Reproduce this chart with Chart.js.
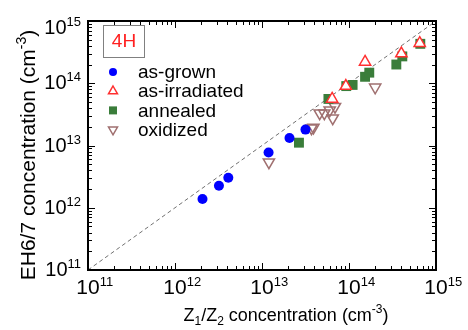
<!DOCTYPE html>
<html lang="en">
<head>
<meta charset="UTF-8">
<title>EH6/7 vs Z1/Z2</title>
<script src="https://cdn.jsdelivr.net/npm/chart.js"></script>
<style>
    body { margin: 0; background: #fff; }
    canvas { display: block; }
</style>
</head>
<body>
<canvas id="myChart" width="468" height="330"></canvas>
<script>
    // data (cm^-3)
    const grownX = [2.07e12, 3.2e12, 4.1e12, 1.19e13, 2.07e13, 3.16e13];
    const grownY = [1.38e12, 2.26e12, 3.04e12, 7.7e12, 1.32e13, 1.8e13];
    const irrX = [6.4e13, 9.2e13, 1.53e14, 4.0e14, 6.5e14];
    const irrY = [5.6e13, 9.0e13, 2.2e14, 3.0e14, 4.4e14];
    const annX = [2.66e13, 5.8e13, 9.3e13, 1.1e14, 1.53e14, 1.71e14, 3.5e14, 4.1e14, 6.6e14];
    const annY = [1.11e13, 5.6e13, 9.0e13, 9.4e13, 1.27e14, 1.48e14, 2.0e14, 2.7e14, 4.3e14];
    const oxiX = [1.2e13, 3.7e13, 3.9e13, 4.6e13, 5.2e13, 6.0e13, 6.5e13, 6.9e13, 2.0e14];
    const oxiY = [5.4e12, 1.9e13, 1.95e13, 3.3e13, 3.3e13, 3.7e13, 2.75e13, 4.2e13, 8.6e13];
    const guideX = [1e11, 1e15];
    const guideY = [1e11, 1e15];
    const decades = [11, 12, 13, 14, 15];

    const FONT = '"Liberation Sans", Arial, sans-serif';

    function pts(xs, ys) {
        return xs.map((x, i) => ({x: x, y: ys[i]}));
    }

    // ticks, frame, labels, titles and legend
    const decor = {
        id: 'decor',
        afterDraw(chart) {
            const c = chart.ctx;
            const a = chart.chartArea;
            const xs = chart.scales.x, ys = chart.scales.y;
            c.save();
            c.strokeStyle = '#000';
            c.lineWidth = 1;
            c.beginPath();
            for (let d = 11; d < 15; d++) {
                for (let m = 1; m <= 9; m++) {
                    const v = m * Math.pow(10, d);
                    const len = m === 1 ? 7 : 4;
                    const px = Math.round(xs.getPixelForValue(v)) + 0.5;
                    c.moveTo(px, a.bottom); c.lineTo(px, a.bottom - len);
                    c.moveTo(px, a.top); c.lineTo(px, a.top + len);
                    const py = Math.round(ys.getPixelForValue(v)) + 0.5;
                    c.moveTo(a.left, py); c.lineTo(a.left + len, py);
                    c.moveTo(a.right, py); c.lineTo(a.right - len, py);
                }
            }
            c.stroke();
            c.lineWidth = 2;
            c.strokeRect(a.left, a.top, a.right - a.left, a.bottom - a.top);

            // tick labels 10^n
            c.fillStyle = '#000';
            c.textBaseline = 'alphabetic';
            decades.forEach(d => {
                const v = Math.pow(10, d);
                c.font = '21px ' + FONT;
                const bw = c.measureText('10').width;
                const px = xs.getPixelForValue(v);
                c.textAlign = 'left';
                c.fillText('10', px - bw / 2, 294);
                c.font = '13px ' + FONT;
                c.fillText(String(d), px + bw / 2, 286);

                const py = ys.getPixelForValue(v);
                c.font = '13px ' + FONT;
                const sw = c.measureText(String(d)).width;
                const right = 81;
                const base = Math.max(py + 6, 34);
                c.fillText(String(d), right - sw, base - 8);
                c.font = '20px ' + FONT;
                const bw2 = c.measureText('10').width;
                c.fillText('10', right - sw - bw2, base);
            });

            // x title with sub/superscripts
            const xParts = [
                ['Z', 18, 0], ['1', 12, 4], ['/Z', 18, 0], ['2', 12, 4],
                [' concentration (cm', 18, 0], ['-3', 12, -8], [')', 18, 0]
            ];
            drawParts(c, xParts, 286, 321);
            const yParts = [
                ['EH6/7 concentration (cm', 21, 0], ['-3', 14, -9], [')', 21, 0]
            ];
            c.save();
            c.translate(35, 155);
            c.rotate(-Math.PI / 2);
            drawParts(c, yParts, 0, 0);
            c.restore();

            // 4H box
            c.lineWidth = 1;
            c.strokeStyle = '#808080';
            c.strokeRect(103.5, 25.5, 41, 32);
            c.fillStyle = '#ff2020';
            c.font = '19px ' + FONT;
            c.textAlign = 'center';
            c.textBaseline = 'middle';
            c.fillText('4H', 124, 42);

            // legend
            const names = ['as-grown', 'as-irradiated', 'annealed', 'oxidized'];
            names.forEach((n, i) => {
                const y = 72 + i * 19.2;
                drawMarker(c, i, 113, y, 0.8);
                c.fillStyle = '#000';
                c.font = '19px ' + FONT;
                c.textAlign = 'left';
                c.textBaseline = 'middle';
                c.fillText(n, 138, y + 1);
            });
            c.restore();
        }
    };

    function drawParts(c, parts, cx, base) {
        c.textAlign = 'left';
        c.textBaseline = 'alphabetic';
        c.fillStyle = '#000';
        let total = 0;
        parts.forEach(p => { c.font = p[1] + 'px ' + FONT; total += c.measureText(p[0]).width; });
        let x = cx - total / 2;
        parts.forEach(p => {
            c.font = p[1] + 'px ' + FONT;
            c.fillText(p[0], x, base + p[2]);
            x += c.measureText(p[0]).width;
        });
    }

    function drawMarker(c, kind, x, y, s) {
        c.beginPath();
        if (kind === 0) {
            c.fillStyle = '#0000ff';
            c.arc(x, y, 5 * s, 0, Math.PI * 2);
            c.fill();
        } else if (kind === 1) {
            const r = 6.5 * s;
            c.moveTo(x, y - r);
            c.lineTo(x + r * 0.866, y + r / 2);
            c.lineTo(x - r * 0.866, y + r / 2);
            c.closePath();
            c.fillStyle = '#fff';
            c.fill();
            c.strokeStyle = '#ff3030';
            c.lineWidth = 1.5;
            c.stroke();
        } else if (kind === 2) {
            c.fillStyle = '#3a7d3a';
            c.fillRect(x - 5 * s, y - 5 * s, 10 * s, 10 * s);
        } else {
            const r = 6.5 * s;
            c.moveTo(x, y + r);
            c.lineTo(x + r * 0.866, y - r / 2);
            c.lineTo(x - r * 0.866, y - r / 2);
            c.closePath();
            c.strokeStyle = '#a07070';
            c.lineWidth = 1.5;
            c.stroke();
        }
    }

    const ctx = document.getElementById('myChart').getContext('2d');
    new Chart(ctx, {
        type: 'scatter',
        data: {
            datasets: [
                {
                    label: 'as-grown',
                    data: pts(grownX, grownY),
                    pointStyle: 'circle',
                    pointRadius: 5,
                    backgroundColor: '#0000ff',
                    borderColor: '#0000ff',
                    borderWidth: 0
                },
                {
                    label: 'as-irradiated',
                    data: pts(irrX, irrY),
                    pointStyle: 'triangle',
                    pointRadius: 6.5,
                    backgroundColor: '#ffffff',
                    borderColor: '#ff3030',
                    borderWidth: 1.5
                },
                {
                    label: 'annealed',
                    data: pts(annX, annY),
                    pointStyle: 'rect',
                    pointRadius: 7,
                    backgroundColor: '#3a7d3a',
                    borderColor: '#3a7d3a',
                    borderWidth: 0
                },
                {
                    label: 'oxidized',
                    data: pts(oxiX, oxiY),
                    pointStyle: 'triangle',
                    rotation: 180,
                    pointRadius: 6.5,
                    backgroundColor: 'rgba(0,0,0,0)',
                    borderColor: '#a07070',
                    borderWidth: 1.5
                },
                {
                    type: 'line',
                    label: 'guide',
                    data: pts(guideX, guideY),
                    borderColor: '#707070',
                    borderWidth: 1,
                    borderDash: [4, 3],
                    pointRadius: 0,
                    fill: false
                }
            ]
        },
        options: {
            responsive: false,
            animation: false,
            layout: { padding: { left: 88, right: 32, top: 21, bottom: 60 } },
            scales: {
                x: { type: 'logarithmic', min: 1e11, max: 1e15, display: false },
                y: { type: 'logarithmic', min: 1e11, max: 1e15, display: false }
            },
            plugins: {
                legend: { display: false },
                tooltip: { enabled: false }
            }
        },
        plugins: [decor]
    });
</script>
</body>
</html>
